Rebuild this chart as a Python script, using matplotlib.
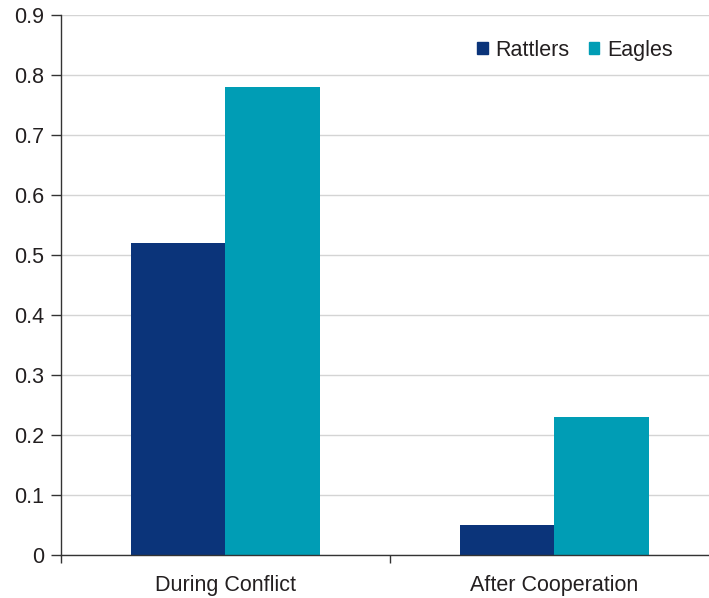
import matplotlib.pyplot as plt
from matplotlib.patches import Patch
import numpy as np

categories = ['During Conflict', 'After Cooperation']
groups = ['Rattlers', 'Eagles']
rattlers = [0.52, 0.05]
eagles = [0.78, 0.23]
colors = ['#0b347a', '#009db5']
y_ticks = [0, 0.1, 0.2, 0.3, 0.4, 0.5, 0.6, 0.7, 0.8, 0.9]
y_labels = ['0', '0.1', '0.2', '0.3', '0.4', '0.5', '0.6', '0.7', '0.8', '0.9']

plt.rcParams['font.family'] = ['Liberation Sans', 'DejaVu Sans']

fig = plt.figure(figsize=(7.09, 5.98), dpi=100)
ax = fig.add_axes([0.086, 0.0719, 0.928, 0.903])

x = np.arange(len(categories))
width = 0.2875
ax.bar(x - width/2, rattlers, width, color=colors[0], zorder=3)
ax.bar(x + width/2, eagles, width, color=colors[1], zorder=3)

ax.set_xlim(-0.5, 1.5)
ax.set_ylim(0, 0.9)
ax.set_yticks(y_ticks)
ax.set_yticklabels(y_labels)
ax.yaxis.grid(True, color='#d4d4d4', linewidth=1, zorder=0)

# category labels sit between the boundary ticks
ax.set_xticks([-0.5, 0.5, 1.5])
ax.set_xticklabels([])
ax.set_xticks(x, minor=True)
ax.set_xticklabels(categories, minor=True)
ax.tick_params(axis='x', which='minor', length=0, pad=14.5, labelsize=15.5, colors='#231f20')
ax.tick_params(axis='x', which='major', length=6, width=1, color='#333333')
ax.tick_params(axis='y', length=7, width=1, color='#333333', labelsize=15.5, labelcolor='#231f20', pad=5)

for side in ['top', 'right']:
    ax.spines[side].set_visible(False)
for side in ['left', 'bottom']:
    ax.spines[side].set_color('#333333')
    ax.spines[side].set_linewidth(1)
    ax.spines[side].set_zorder(4)

handles = [Patch(color=c) for c in colors]
ax.legend(handles, groups, loc='upper right', bbox_to_anchor=(0.959, 0.99), ncol=2,
          frameon=False, fontsize=15.5, handlelength=0.5, handleheight=0.5,
          handletextpad=0.35, columnspacing=0.9, labelcolor='#231f20')

fig.savefig('out.png', dpi=100)
